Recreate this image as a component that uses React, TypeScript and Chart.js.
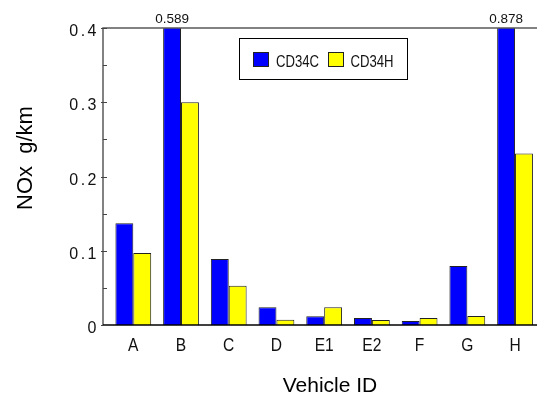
import React, { useEffect, useRef } from "react";
import { Chart, registerables } from "chart.js";

Chart.register(...registerables);

// Vehicle categories along the x axis
const VEHICLES = ["A", "B", "C", "D", "E1", "E2", "F", "G", "H"];
// NOx emissions (g/km) for each fuel
const CD34C = [0.137, 0.589, 0.089, 0.024, 0.0117, 0.0094, 0.0054, 0.0795, 0.878];
const CD34H = [0.097, 0.3, 0.053, 0.007, 0.024, 0.0067, 0.0094, 0.012, 0.231];
const SERIES_NAMES = ["CD34C", "CD34H"];
const SERIES_COLORS = ["#0000ff", "#ffff00"];
// y-axis range and labelled ticks
const Y_MAX = 0.4;
const Y_TICKS = [0, 0.1, 0.2, 0.3, 0.4];
const Y_MINOR = [0.05, 0.15, 0.25, 0.35];
const Y_TITLE = "NOx  g/km";
const X_TITLE = "Vehicle ID";

const SANS = "'Liberation Sans', Arial, sans-serif";
const NARROW_SCALE = 0.82;

const fmtTick = (v: number) => (v === 0 ? "0" : v.toFixed(1));

// Condensed text: regular face squeezed horizontally
function narrowText(ctx: CanvasRenderingContext2D, text: string, x: number, y: number, align: "left" | "center") {
  ctx.save();
  ctx.translate(x, y);
  ctx.scale(NARROW_SCALE, 1);
  ctx.textAlign = align;
  ctx.fillText(text, 0, 0);
  ctx.restore();
}

// Frame, inward ticks, axis labels, titles, overflow values and legend box
const decorations = {
  id: "decorations",
  afterDatasetsDraw(chart: any) {
    const { ctx, chartArea } = chart;
    const y = chart.scales.y;
    const x = chart.scales.x;
    const { left, right, top, bottom } = chartArea;
    ctx.save();

    // top frame line and left axis
    ctx.strokeStyle = "#5a5a5a";
    ctx.lineWidth = 1.5;
    ctx.beginPath();
    ctx.moveTo(right, top);
    ctx.lineTo(left, top);
    ctx.lineTo(left, bottom);
    ctx.stroke();

    // bottom axis line
    ctx.strokeStyle = "#000";
    ctx.beginPath();
    ctx.moveTo(left, bottom);
    ctx.lineTo(right, bottom);
    ctx.stroke();

    // ticks on the y axis
    ctx.strokeStyle = "#444";
    ctx.lineWidth = 1;
    for (const v of Y_TICKS) {
      const py = Math.round(y.getPixelForValue(v)) + 0.5;
      ctx.beginPath();
      ctx.moveTo(left - 2, py);
      ctx.lineTo(left + 4, py);
      ctx.stroke();
    }
    for (const v of Y_MINOR) {
      const py = Math.round(y.getPixelForValue(v)) + 0.5;
      ctx.beginPath();
      ctx.moveTo(left, py);
      ctx.lineTo(left + 4, py);
      ctx.stroke();
    }

    // y tick labels
    ctx.fillStyle = "#111";
    ctx.font = `16px ${SANS}`;
    (ctx as any).letterSpacing = "2.5px";
    ctx.textAlign = "left";
    ctx.textBaseline = "alphabetic";
    for (const v of Y_TICKS) {
      const t = fmtTick(v);
      const w = ctx.measureText(t).width;
      ctx.fillText(t, left - 4 - w, y.getPixelForValue(v) + 8);
    }
    (ctx as any).letterSpacing = "0px";

    // x category labels
    ctx.font = `19px ${SANS}`;
    VEHICLES.forEach((name, i) => {
      narrowText(ctx, name, x.getPixelForValue(i + 1), bottom + 26, "center");
    });

    // values of bars running past the top of the axis
    ctx.font = `13.5px ${SANS}`;
    ctx.textAlign = "center";
    chart.data.datasets.forEach((ds: any, di: number) => {
      const meta = chart.getDatasetMeta(di);
      ds.data.forEach((pt: any, i: number) => {
        if (pt.y > Y_MAX) {
          ctx.fillText(pt.y.toFixed(3), meta.data[i].x, top - 5);
        }
      });
    });

    // axis titles
    ctx.fillStyle = "#000";
    ctx.font = `21px ${SANS}`;
    ctx.textAlign = "center";
    ctx.fillText(X_TITLE, 330, 392);

    ctx.save();
    ctx.font = `22px ${SANS}`;
    ctx.translate(32, 158);
    ctx.rotate(-Math.PI / 2);
    ctx.fillText(Y_TITLE, 0, 0);
    ctx.restore();

    // legend
    ctx.fillStyle = "#fff";
    ctx.fillRect(239.5, 38.5, 168, 41);
    ctx.strokeStyle = "#000";
    ctx.lineWidth = 1;
    ctx.strokeRect(239.5, 38.5, 168, 41);
    const items = [
      { sx: 253.5, tx: 276 },
      { sx: 328.5, tx: 350.5 },
    ];
    ctx.font = `16px ${SANS}`;
    items.forEach((it, i) => {
      ctx.fillStyle = SERIES_COLORS[i];
      ctx.fillRect(it.sx, 52.5, 15, 14);
      ctx.strokeStyle = "#222";
      ctx.strokeRect(it.sx, 52.5, 15, 14);
      ctx.fillStyle = "#111";
      narrowText(ctx, SERIES_NAMES[i], it.tx, 66.5, "left");
    });

    ctx.restore();
  },
};

export default function App() {
  const canvasRef = useRef<HTMLCanvasElement | null>(null);

  useEffect(() => {
    const canvas = canvasRef.current;
    if (!canvas) return;
    const series = [CD34C, CD34H];
    const chart = new Chart(canvas, {
      type: "bar",
      data: {
        datasets: series.map((vals, si) => ({
          label: SERIES_NAMES[si],
          data: vals.map((v, i) => ({ x: i + 1, y: v })),
          backgroundColor: SERIES_COLORS[si],
          borderColor: "#222",
          borderWidth: 1,
          borderSkipped: "start",
          clip: 0,
          barPercentage: 1,
          categoryPercentage: 0.75,
        })),
      },
      plugins: [decorations],
      options: {
        responsive: false,
        animation: false,
        devicePixelRatio: 1,
        layout: { padding: { top: 28, left: 0, right: 0, bottom: 0 } },
        plugins: {
          legend: { display: false },
          tooltip: { enabled: false },
        },
        scales: {
          x: {
            type: "linear",
            min: 0.365,
            max: 9.46,
            offset: false,
            grid: { display: false, drawTicks: false, offset: false },
            border: { display: false },
            ticks: { display: false },
            afterBuildTicks(scale: any) {
              scale.ticks = VEHICLES.map((_, i) => ({ value: i + 1 }));
            },
            afterFit(scale: any) {
              scale.height = 69;
            },
          },
          y: {
            min: 0,
            max: Y_MAX,
            grid: { display: false, drawTicks: false },
            border: { display: false },
            ticks: { display: false },
            afterFit(scale: any) {
              scale.width = 103;
            },
          },
        },
      } as any,
    });
    return () => chart.destroy();
  }, []);

  return (
    <div style={{ position: "fixed", left: 0, top: 0, width: 537, height: 394, background: "#fff" }}>
      <canvas ref={canvasRef} width={537} height={394} />
    </div>
  );
}
